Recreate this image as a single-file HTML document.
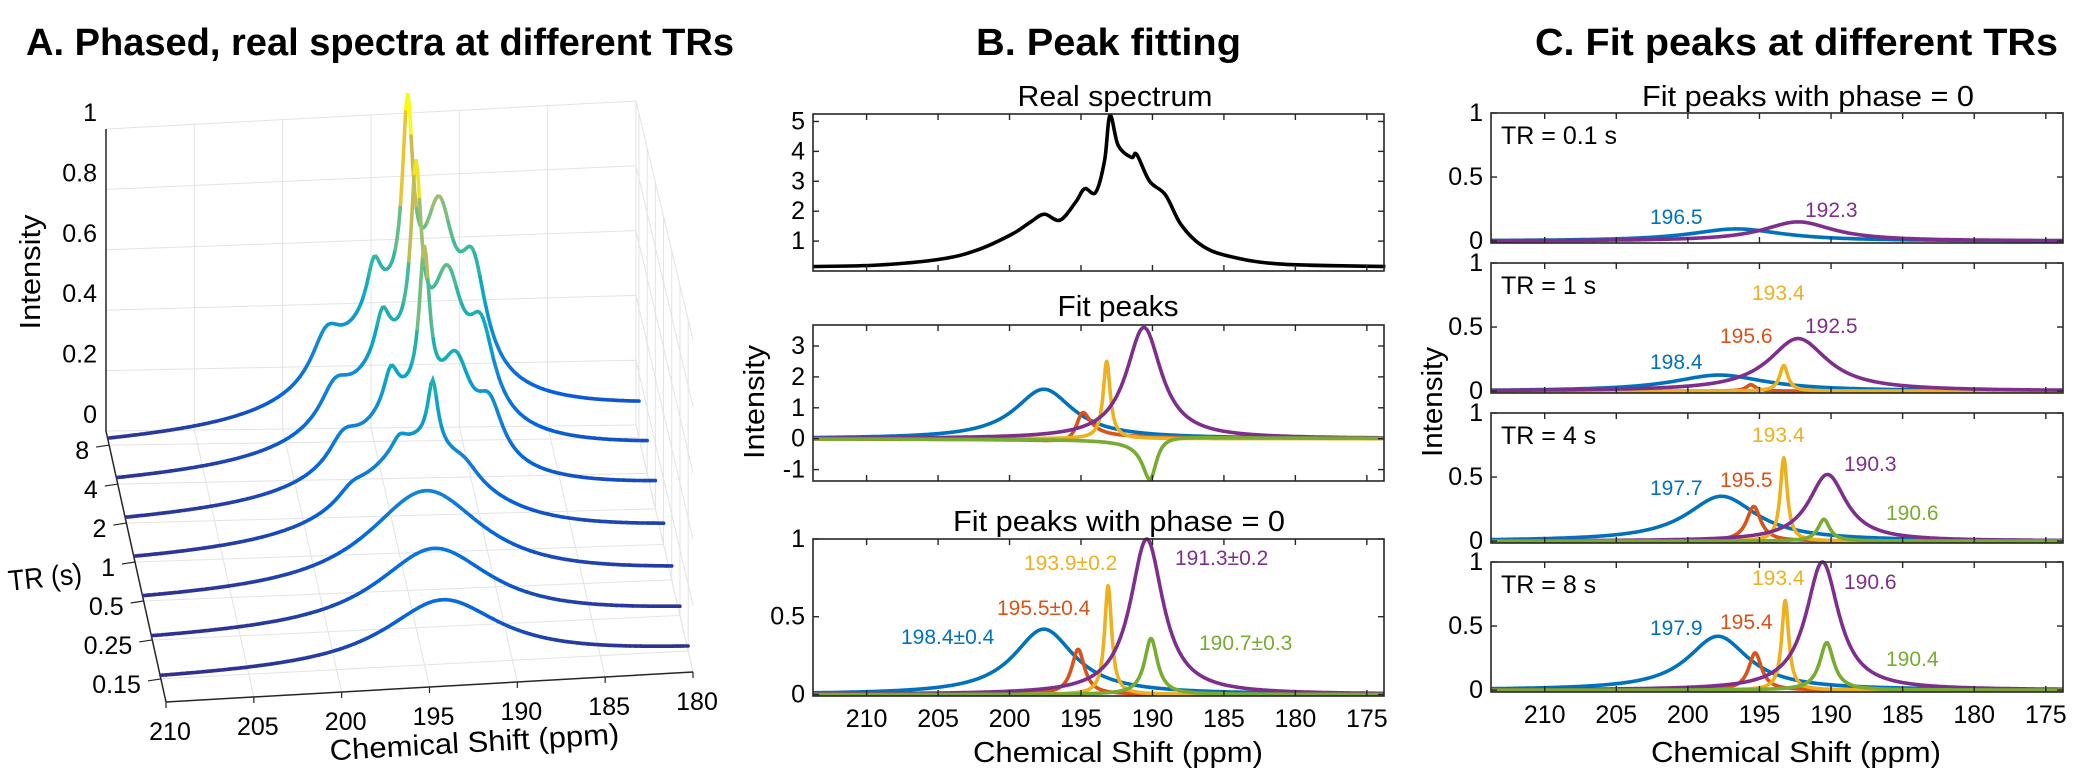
<!DOCTYPE html>
<html><head><meta charset="utf-8"><style>
html,body{margin:0;padding:0;background:#fff;}
svg{display:block;font-family:"Liberation Sans",sans-serif;}
</style></head><body>
<svg id="fig" width="2075" height="784" viewBox="0 0 2075 784" xmlns="http://www.w3.org/2000/svg">
<rect x="0" y="0" width="2075" height="784" fill="#fff"/>
<g font-weight="bold" font-size="38" fill="#000">
<text x="26" y="55" textLength="708" lengthAdjust="spacingAndGlyphs">A. Phased, real spectra at different TRs</text>
<text x="976" y="55" textLength="265" lengthAdjust="spacingAndGlyphs">B. Peak fitting</text>
<text x="1535" y="55" textLength="523" lengthAdjust="spacingAndGlyphs">C. Fit peaks at different TRs</text>
</g>
<g id="A"></g>
<g id="B"></g>
<g id="C"></g>
<g font-size="21">
<text x="901" y="644" fill="#0072BD">198.4±0.4</text>
<text x="997" y="615" fill="#D95319">195.5±0.4</text>
<text x="1024" y="570" fill="#EDB120">193.9±0.2</text>
<text x="1175" y="565" fill="#7E2F8E">191.3±0.2</text>
<text x="1199" y="650" fill="#77AC30">190.7±0.3</text>

<text x="1650" y="224" fill="#0072BD">196.5</text>
<text x="1805" y="217" fill="#7E2F8E">192.3</text>
<text x="1752" y="300" fill="#EDB120">193.4</text>
<text x="1720" y="343" fill="#D95319">195.6</text>
<text x="1805" y="333" fill="#7E2F8E">192.5</text>
<text x="1650" y="369" fill="#0072BD">198.4</text>
<text x="1752" y="442" fill="#EDB120">193.4</text>
<text x="1720" y="487" fill="#D95319">195.5</text>
<text x="1844" y="471" fill="#7E2F8E">190.3</text>
<text x="1650" y="495" fill="#0072BD">197.7</text>
<text x="1886" y="520" fill="#77AC30">190.6</text>
<text x="1752" y="585" fill="#EDB120">193.4</text>
<text x="1844" y="589" fill="#7E2F8E">190.6</text>
<text x="1720" y="629" fill="#D95319">195.4</text>
<text x="1650" y="635" fill="#0072BD">197.9</text>
<text x="1886" y="666" fill="#77AC30">190.4</text>
</g>
</svg>
<script>
// ---------- DATA ----------
// Panel A: waterfall traces (Lorentzian components: hump, 197.7, 195.0, 193.1, 191.3, 189.4)
const aTR = ['8','4','2','1','0.5','0.25','0.15'];
const aCenters = [194.0, 197.7, 195.0, 193.1, 191.3, 189.4];
const aWidths = [4.0, 1.0, 0.5, 0.35, 1.0, 0.9];
const aAmps = [
  [0.35,0.13,0.15,0.6,0.4,0.3],
  [0.33,0.1,0.14,0.55,0.33,0.24],
  [0.3,0.08,0.12,0.46,0.22,0.15],
  [0.32,0.04,0.04,0.2,0.04,0],
  [0.3,0,0,0,0,0],
  [0.24,0,0,0,0,0],
  [0.2,0,0,0,0,0]
];
const aBaseline = [0.08,0.07,0.06,0.04,0.02,0.01,0];
const aXTicks = [210,205,200,195,190,185,180];
const aZTicks = [0,0.2,0.4,0.6,0.8,1];
const aZLabels = ['0','0.2','0.4','0.6','0.8','1'];

// Panel B: real spectrum
const realPpm = [213.76,209.15,204.77,202.27,199.76,198.5,197.57,196.47,195.38,194.75,193.97,193.35,192.97,192.4,191.47,191.1,190.2,189.1,188.0,186.6,184.7,181.0,173.7];
const realInt = [0.15,0.2,0.4,0.7,1.25,1.65,1.9,1.7,2.3,2.75,2.63,3.7,5.2,4.2,3.8,3.9,3.0,2.55,1.55,0.87,0.5,0.23,0.15];
// Panel B: fit peaks (complex phase)
const fitCenters = [197.6,195.0,193.2,190.6,190.1];
const fitWidths = [2.5,0.6,0.3,1.5,0.6];
const fitAmps = [1.6,0.9,2.5,3.6,-1.35];
const fitPhases = [0,-0.5,0,0,0.3];
// Panel B: phase = 0
const p0Centers = [197.6,195.2,193.1,190.4,190.1];
const p0Widths = [2.6,0.55,0.3,1.4,0.55];
const p0Amps = [0.42,0.29,0.7,1.0,0.36];
// Panel C
const cTR = ['0.1','1','4','8'];
const cCenters = [[196.6,195.5,193.3,192.3,190.5],[197.8,195.6,193.3,192.3,190.5],[197.65,195.4,193.3,190.25,190.5],[197.9,195.3,193.2,190.6,190.3]];
const cWidths = [[4,0.4,0.35,3,0.5],[4,0.4,0.35,2.5,0.5],[3,0.6,0.3,1.6,0.5],[2.6,0.55,0.3,1.4,0.6]];
const cAmps = [[0.095,0,0,0.15,0],[0.125,0.05,0.2,0.41,0],[0.35,0.27,0.65,0.52,0.17],[0.42,0.29,0.7,1.0,0.37]];
const xTicks = [210,205,200,195,190,185,180,175];
const peakNames = ['blue','red','yellow','purple','green'];

// ---------- HELPERS ----------
const NS='http://www.w3.org/2000/svg';
const COLORS=['#0072BD','#D95319','#EDB120','#7E2F8E','#77AC30'];
function mk(tag, attrs, parent){const e=document.createElementNS(NS,tag);for(const k in attrs)e.setAttribute(k,attrs[k]);parent.appendChild(e);return e;}
function txt(s, attrs, parent){const e=mk('text',attrs,parent);e.textContent=s;return e;}
function lor(x,c,w){const t=(x-c)/w;return 1/(1+t*t);}
function disp(x,c,w){const t=(x-c)/w;return t/(1+t*t);}

// ---------- PANEL A ----------
const gA=document.getElementById('A');
const BL=[106,431],BR=[636,425],FL=[166,702],FR=[693,672];
function floorPt(u,v){
  const x=(1-u)*(1-v)*BL[0]+u*(1-v)*BR[0]+(1-u)*v*FL[0]+u*v*FR[0];
  const y=(1-u)*(1-v)*BL[1]+u*(1-v)*BR[1]+(1-u)*v*FL[1]+u*v*FR[1];
  return [x,y];
}
function P(ppm,v,z){const u=(210-ppm)/30;const f=floorPt(u,v);const s=302+22*u+8*v;return [f[0],f[1]-z*s];}
function rowV(i){return 0.052+i*0.1438;}
function parula(t){
  const st=[[0,53,42,135],[0.15,3,99,225],[0.3,20,130,215],[0.45,6,167,198],[0.6,56,185,158],[0.75,146,191,115],[0.88,228,186,66],[1,249,251,14]];
  t=Math.max(0,Math.min(1,t));
  for(let i=1;i<st.length;i++){if(t<=st[i][0]){const a=st[i-1],b=st[i];const f=(t-a[0])/(b[0]-a[0]);return 'rgb('+[1,2,3].map(k=>Math.round(a[k]+f*(b[k]-a[k]))).join(',')+')';}}
  return 'rgb(249,251,14)';
}
function lineA(p,q,stroke,w,name){const l=mk('line',{x1:p[0],y1:p[1],x2:q[0],y2:q[1],stroke:stroke,'stroke-width':w},gA);
  
  
  return l;}
const GRID='#e3e3e3';
aXTicks.forEach(p=>{lineA(P(p,0,0),P(p,0,1),GRID,1,'a-back-gridline');lineA(P(p,0,0),P(p,1,0),GRID,1,'a-floor-gridline');});
aZTicks.forEach(z=>{lineA(P(210,0,z),P(180,0,z),GRID,1,'a-back-hgridline');lineA(P(180,0,z),P(180,1,z),GRID,1,'a-side-gridline');});
aTR.forEach((t,i)=>{lineA(P(210,rowV(i),0),P(180,rowV(i),0),GRID,1,'a-floor-row-gridline');lineA(P(180,rowV(i),0),P(180,rowV(i),1),GRID,1,'a-side-vgridline');});
lineA(P(210,0,0),P(210,0,1),'#262626',1.5,'a-z-axis');
lineA(P(210,0,0),P(210,1,0),'#262626',1.5,'a-tr-axis');
lineA(P(210,1,0),P(180,1,0),'#262626',1.5,'a-x-axis');
aZTicks.forEach((z,i)=>{const p=P(210,0,z);
  const t=txt(aZLabels[i],{x:97,y:p[1]-16,'font-size':25,'text-anchor':'end','dominant-baseline':'central',fill:'#000'},gA);
  
  
});
aXTicks.forEach(x=>{const p=P(x,1,0);lineA(p,[p[0],p[1]+6],'#262626',1.2,'a-x-tick');
  const t=txt(String(x),{x:p[0]+4,y:p[1]+30,'font-size':25,'text-anchor':'middle','dominant-baseline':'central',fill:'#000'},gA);
  
  
});
aTR.forEach((tr,i)=>{const p=P(210,rowV(i),0);lineA([p[0]-13,p[1]+2],p,'#262626',1.2,'a-tr-tick');
  const t=txt(tr,{x:p[0]-20,y:p[1]+6,'font-size':25,'text-anchor':'end','dominant-baseline':'central',fill:'#000'},gA);
  
  
});
aTR.forEach((tr,i)=>{
  const g=mk('g',{},gA);
  
  
  const pts=[];
  for(let k=0;k<=300;k++){const ppm=210-k*0.1;let z=aBaseline[i]*(k/300);
    for(let c=0;c<aCenters.length;c++)z+=aAmps[i][c]*lor(ppm,aCenters[c],aWidths[c]);
    pts.push([P(ppm,rowV(i),z),z]);}
  for(let k=0;k<300;k+=3){const seg=pts.slice(k,k+4);
    const zm=seg.reduce((s,a)=>s+a[1],0)/seg.length;
    const pl=mk('polyline',{points:seg.map(a=>a[0][0].toFixed(1)+','+a[0][1].toFixed(1)).join(' '),fill:'none',stroke:parula(zm),'stroke-width':3.6,'stroke-linecap':'round'},g);
    
    
  }
});
{const t=txt('Intensity',{x:0,y:0,'font-size':29,'text-anchor':'middle',transform:'translate(40,272) rotate(-90)',textLength:115,lengthAdjust:'spacingAndGlyphs'},gA);

}
{const t=txt('TR (s)',{x:0,y:0,'font-size':29,'text-anchor':'middle',transform:'translate(46,587) rotate(-6)',textLength:74,lengthAdjust:'spacingAndGlyphs'},gA);

}
{const t=txt('Chemical Shift (ppm)',{x:0,y:0,'font-size':29,'text-anchor':'middle',transform:'translate(475,752) rotate(-3.3)',textLength:290,lengthAdjust:'spacingAndGlyphs'},gA);

}

// ---------- GENERIC 2D AXES ----------
const XL=213.75, XR=173.8;
function makeAxes(parent,L,R,T,Bt,ymin,ymax,yticks,ylabels,showX,name){
  const g=mk('g',{},parent);
  
  
  const sx=p=>L+(XL-p)/(XL-XR)*(R-L);
  const sy=v=>Bt-(v-ymin)/(ymax-ymin)*(Bt-T);
  const bg=mk('rect',{x:L,y:T,width:R-L,height:Bt-T,fill:'#fff'},g);
  
  
  const plot=mk('g',{},g);
  
  
  const frame=mk('g',{},g);
  
  
  const box=mk('rect',{x:L,y:T,width:R-L,height:Bt-T,fill:'none',stroke:'#262626','stroke-width':1.6},frame);
  
  
  xTicks.forEach(x=>{const px=sx(x);
    const a=mk('line',{x1:px,y1:Bt,x2:px,y2:Bt-6,stroke:'#262626','stroke-width':1.4},frame);
    
    
    const b=mk('line',{x1:px,y1:T,x2:px,y2:T+6,stroke:'#262626','stroke-width':1.4},frame);
    
    
    if(showX){const t=txt(String(x),{x:px,y:Bt+31,'font-size':25,'text-anchor':'middle',fill:'#000'},frame);
      
      }
  });
  yticks.forEach((v,i)=>{const py=sy(v);
    const a=mk('line',{x1:L,y1:py,x2:L+6,y2:py,stroke:'#262626','stroke-width':1.4},frame);
    
    
    const b=mk('line',{x1:R,y1:py,x2:R-6,y2:py,stroke:'#262626','stroke-width':1.4},frame);
    
    
    const t=txt(ylabels[i],{x:L-8,y:py,'font-size':25,'text-anchor':'end','dominant-baseline':'central',fill:'#000'},frame);
    
    
  });
  return {g,plot,sx,sy};
}
function curve(ax,fn,color,name,w){
  const pts=[];for(let p=XL;p>=XR-0.001;p-=0.04){pts.push(ax.sx(p).toFixed(1)+','+ax.sy(fn(p)).toFixed(1));}
  const pl=mk('polyline',{points:pts.join(' '),fill:'none',stroke:color,'stroke-width':w||3.6,'stroke-linejoin':'round'},ax.plot);
  
  
}

// ---------- PANEL B ----------
const gB=document.getElementById('B');
const b1=makeAxes(gB,813,1384,114,271,0,5.25,[1,2,3,4,5],['1','2','3','4','5'],false,'b-real-spectrum-axes');
{
  const P2=realPpm.map((p,i)=>[b1.sx(p),b1.sy(realInt[i])]);
  let d='M'+P2[0][0]+','+P2[0][1];
  for(let i=0;i<P2.length-1;i++){const p0=P2[Math.max(0,i-1)],p1=P2[i],p2=P2[i+1],p3=P2[Math.min(P2.length-1,i+2)];
    const c1=[p1[0]+(p2[0]-p0[0])/6,p1[1]+(p2[1]-p0[1])/6],c2=[p2[0]-(p3[0]-p1[0])/6,p2[1]-(p3[1]-p1[1])/6];
    d+=' C'+c1[0].toFixed(1)+','+c1[1].toFixed(1)+' '+c2[0].toFixed(1)+','+c2[1].toFixed(1)+' '+p2[0].toFixed(1)+','+p2[1].toFixed(1);}
  const path=mk('path',{d:d,fill:'none',stroke:'#000','stroke-width':3.6,'stroke-linejoin':'round'},b1.plot);
  
  
}
const b2=makeAxes(gB,813,1384,325,481,-1.37,3.68,[-1,0,1,2,3],['-1','0','1','2','3'],false,'b-fit-peaks-axes');
fitCenters.forEach((c,i)=>curve(b2,p=>fitAmps[i]*(Math.cos(fitPhases[i])*lor(p,c,fitWidths[i])+Math.sin(fitPhases[i])*disp(p,c,fitWidths[i])),COLORS[i],'b-fit-peak-'+peakNames[i]));
const b3=makeAxes(gB,813,1384,539,696,-0.01,1,[0,0.5,1],['0','0.5','1'],true,'b-phase0-axes');
p0Centers.forEach((c,i)=>curve(b3,p=>p0Amps[i]*lor(p,c,p0Widths[i]),COLORS[i],'b-phase0-peak-'+peakNames[i]));
[['Real spectrum',1115,106,195,'b-title-real'],['Fit peaks',1118,316,121,'b-title-fit'],['Fit peaks with phase = 0',1119,531,332,'b-title-phase0'],['Chemical Shift (ppm)',1118,762,290,'b-x-axis-title']].forEach(a=>{
  const t=txt(a[0],{x:a[1],y:a[2],'font-size':29,'text-anchor':'middle',textLength:a[3],lengthAdjust:'spacingAndGlyphs',fill:'#000'},gB);
  
  
});
{const t=txt('Intensity',{x:0,y:0,'font-size':29,'text-anchor':'middle',transform:'translate(764,402) rotate(-90)',textLength:114,lengthAdjust:'spacingAndGlyphs'},gB);

}

// ---------- PANEL C ----------
const gC=document.getElementById('C');
const cTops=[113,263,413,562];
cTR.forEach((tr,k)=>{
  const ax=makeAxes(gC,1491,2063,cTops[k],cTops[k]+130,-0.015,1,[0,0.5,1],['0','0.5','1'],k===3,'c-axes-tr-'+tr);
  cCenters[k].forEach((c,i)=>{ if(cAmps[k][i]>0 || (k===1 && i<4)) curve(ax,p=>cAmps[k][i]*lor(p,c,cWidths[k][i]),COLORS[i],'c-peak-'+peakNames[i]); });
  const t=txt('TR = '+tr+' s',{x:1501,y:cTops[k]+31,'font-size':25,fill:'#000'},gC);
  
  
});
{const t=txt('Fit peaks with phase = 0',{x:1808,y:106,'font-size':29,'text-anchor':'middle',textLength:332,lengthAdjust:'spacingAndGlyphs'},gC);

}
{const t=txt('Chemical Shift (ppm)',{x:1796,y:762,'font-size':29,'text-anchor':'middle',textLength:290,lengthAdjust:'spacingAndGlyphs'},gC);

}
{const t=txt('Intensity',{x:0,y:0,'font-size':29,'text-anchor':'middle',transform:'translate(1442,402) rotate(-90)',textLength:110,lengthAdjust:'spacingAndGlyphs'},gC);

}
</script>
</body></html>
